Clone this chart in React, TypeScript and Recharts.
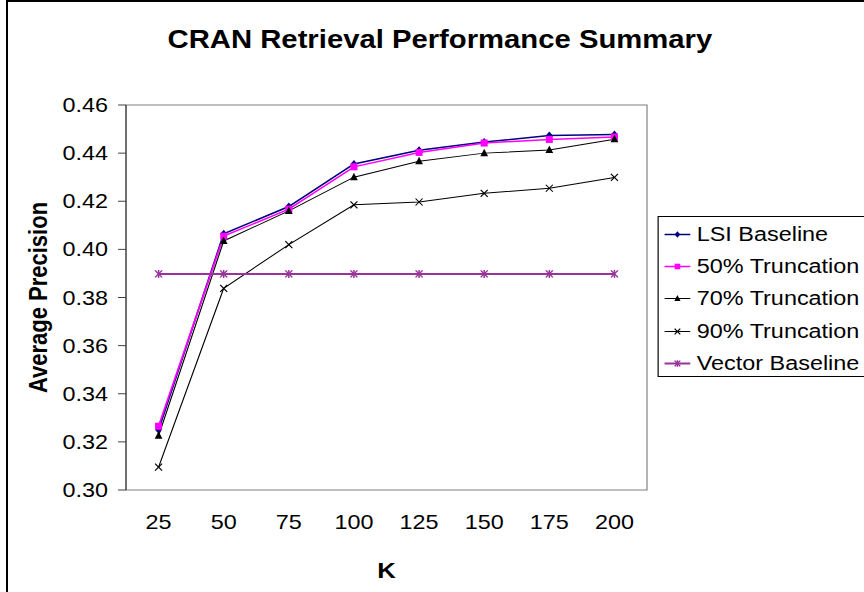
import React from 'react';
import { LineChart, Line, XAxis, YAxis, Legend, ReferenceArea } from 'recharts';

// values
const kLabels = ['25', '50', '75', '100', '125', '150', '175', '200'];
const lsiBaseline = [0.325, 0.4065, 0.4178, 0.4355, 0.4412, 0.4446, 0.4473, 0.4477];
const trunc50 = [0.3265, 0.4055, 0.4167, 0.4343, 0.4403, 0.4442, 0.4457, 0.4467];
const trunc70 = [0.3225, 0.4035, 0.416, 0.43, 0.4366, 0.44, 0.4413, 0.4458];
const trunc90 = [0.3095, 0.3838, 0.402, 0.4185, 0.4197, 0.4233, 0.4254, 0.4299];
const vectorBaseline = [0.3898, 0.3898, 0.3898, 0.3898, 0.3898, 0.3898, 0.3898, 0.3898];
const yTicks = [0.3, 0.32, 0.34, 0.36, 0.38, 0.4, 0.42, 0.44, 0.46];

const FONT = '"Liberation Sans", Arial, Helvetica, sans-serif';
// the reference chart is stretched sideways, so draw narrower and scale in x
const SX = 1.17;
const W = 800;
const H = 592;

type Shape = 'diamond' | 'square' | 'triangle' | 'cross' | 'star';

const series: { key: string; name: string; color: string; width: number; shape: Shape; values: number[] }[] = [
  { key: 'lsi', name: 'LSI Baseline', color: '#000080', width: 1.5, shape: 'diamond', values: lsiBaseline },
  { key: 't50', name: '50% Truncation', color: '#FF00FF', width: 1.5, shape: 'square', values: trunc50 },
  { key: 't70', name: '70% Truncation', color: '#000000', width: 1, shape: 'triangle', values: trunc70 },
  { key: 't90', name: '90% Truncation', color: '#000000', width: 1, shape: 'cross', values: trunc90 },
  { key: 'vec', name: 'Vector Baseline', color: '#993399', width: 2, shape: 'star', values: vectorBaseline },
];

const data = kLabels.map((k, i) => {
  const row: { [key: string]: string | number } = { pos: i + 1, k };
  series.forEach((s) => {
    row[s.key] = s.values[i];
  });
  return row;
});

const bounds = kLabels.map((_, i) => i + 0.5).concat([kLabels.length + 0.5]);
const centers = kLabels.map((_, i) => i + 1);

function Marker({ shape, cx, cy, color, r = 1 }: { shape: Shape; cx: number; cy: number; color: string; r?: number }) {
  switch (shape) {
    case 'diamond':
      return (
        <polygon
          points={`${cx},${cy - 4 * r} ${cx + 3 * r},${cy} ${cx},${cy + 4 * r} ${cx - 3 * r},${cy}`}
          fill={color}
        />
      );
    case 'square':
      return <rect x={cx - 3 * r} y={cy - 3.5 * r} width={6 * r} height={7 * r} fill={color} />;
    case 'triangle':
      return (
        <polygon
          points={`${cx},${cy - 4.5 * r} ${cx + 3.3 * r},${cy + 3 * r} ${cx - 3.3 * r},${cy + 3 * r}`}
          fill={color}
        />
      );
    case 'cross':
      return (
        <g stroke={color} strokeWidth={1}>
          <line x1={cx - 3 * r} y1={cy - 3.5 * r} x2={cx + 3 * r} y2={cy + 3.5 * r} />
          <line x1={cx - 3 * r} y1={cy + 3.5 * r} x2={cx + 3 * r} y2={cy - 3.5 * r} />
        </g>
      );
    case 'star':
      return (
        <g stroke={color} strokeWidth={1.3}>
          <line x1={cx - 3 * r} y1={cy - 3.5 * r} x2={cx + 3 * r} y2={cy + 3.5 * r} />
          <line x1={cx - 3 * r} y1={cy + 3.5 * r} x2={cx + 3 * r} y2={cy - 3.5 * r} />
          <line x1={cx} y1={cy - 4 * r} x2={cx} y2={cy + 4 * r} />
        </g>
      );
  }
  return null;
}

const renderLegend = () => (
  <div
    style={{
      border: '1px solid #000',
      background: '#fff',
      boxSizing: 'border-box',
      width: 200,
      height: 161,
      paddingTop: 1,
      fontFamily: FONT,
      fontSize: 20,
      color: '#000',
    }}
  >
    {series.map((s) => (
      <div key={s.key} style={{ height: 32.2, lineHeight: '32.2px', whiteSpace: 'nowrap', display: 'flex' }}>
        <svg width={31} height={32.2} style={{ flex: 'none', marginLeft: 2 }}>
          <line x1={3} y1={16.5} x2={25} y2={16.5} stroke={s.color} strokeWidth={s.width} />
          <Marker shape={s.shape} cx={14} cy={16.5} color={s.color} r={0.8} />
        </svg>
        <span>{s.name}</span>
      </div>
    ))}
  </div>
);

export default function App() {
  return (
    <div
      style={{
        position: 'absolute',
        left: 0,
        top: 0,
        width: 864,
        height: 592,
        overflow: 'hidden',
        background: '#fff',
      }}
    >
      <div
        style={{
          position: 'absolute',
          left: 6,
          top: 0,
          width: 900,
          height: 620,
          border: '2px solid #000',
          boxSizing: 'border-box',
        }}
      />
      <div style={{ position: 'absolute', left: 0, top: 0, width: W, height: H, transform: `scaleX(${SX})`, transformOrigin: '0 0' }}>
        <div
          style={{
            position: 'absolute',
            left: 0,
            top: 27,
            width: 752,
            textAlign: 'center',
            fontFamily: FONT,
            fontWeight: 'bold',
            fontSize: 25,
            lineHeight: '25px',
            color: '#000',
          }}
        >
          CRAN Retrieval Performance Summary
        </div>
        <LineChart width={W} height={H} data={data} margin={{ top: 105, right: 247, left: 0, bottom: 72 }}>
          <ReferenceArea
            xAxisId="grid"
            x1={0.5}
            x2={8.5}
            y1={0.3}
            y2={0.46}
            fill="#fff"
            fillOpacity={1}
            stroke="#808080"
            strokeWidth={1}
          />
          <XAxis
            xAxisId="grid"
            type="number"
            dataKey="pos"
            domain={[0.5, 8.5]}
            ticks={bounds}
            height={0}
            tickSize={8}
            tickFormatter={() => ''}
            axisLine={{ stroke: '#404040' }}
            tickLine={{ stroke: '#404040' }}
            allowDataOverflow
          />
          <XAxis
            xAxisId="k"
            type="number"
            dataKey="pos"
            domain={[0.5, 8.5]}
            ticks={centers}
            height={30}
            tickSize={0}
            tickMargin={25}
            axisLine={false}
            tickLine={false}
            tickFormatter={(v: number) => kLabels[v - 1] ?? ''}
            tick={{ fill: '#000', fontSize: 20, fontFamily: FONT }}
            label={{
              content: (props: any) => {
                const vb = props.viewBox || {};
                return (
                  <text
                    x={vb.x + vb.width / 2}
                    y={578}
                    textAnchor="middle"
                    fontFamily={FONT}
                    fontWeight="bold"
                    fontSize={22}
                    fill="#000"
                  >
                    K
                  </text>
                );
              },
            }}
          />
          <YAxis
            type="number"
            domain={[0.3, 0.46]}
            ticks={yTicks}
            width={107.7}
            tickSize={6.8}
            tickMargin={8.5}
            tickFormatter={(v: number) => v.toFixed(2)}
            axisLine={{ stroke: '#404040' }}
            tickLine={{ stroke: '#404040' }}
            tick={{ fill: '#000', fontSize: 20, fontFamily: FONT }}
            label={{
              content: (props: any) => {
                const vb = props.viewBox || {};
                const cx = vb.x + 32;
                const cy = vb.y + vb.height / 2;
                return (
                  <text
                    x={cx}
                    y={cy}
                    transform={`rotate(-90 ${cx} ${cy})`}
                    textAnchor="middle"
                    dominantBaseline="central"
                    fontFamily={FONT}
                    fontWeight="bold"
                    fontSize={22}
                    fill="#000"
                  >
                    Average Precision
                  </text>
                );
              },
            }}
          />
          {series.map((s) => (
            <Line
              key={s.key}
              xAxisId="k"
              type="linear"
              dataKey={s.key}
              name={s.name}
              stroke={s.color}
              strokeWidth={s.width}
              isAnimationActive={false}
              dot={(p: any) => (
                <Marker key={`${s.key}-${p.index}`} shape={s.shape} cx={p.cx} cy={p.cy} color={s.color} />
              )}
              activeDot={false}
            />
          ))}
          <Legend
            layout="vertical"
            align="center"
            verticalAlign="middle"
            content={renderLegend}
            wrapperStyle={{ left: 561.5, top: 216, width: 200, height: 161 }}
          />
        </LineChart>
      </div>
    </div>
  );
}
